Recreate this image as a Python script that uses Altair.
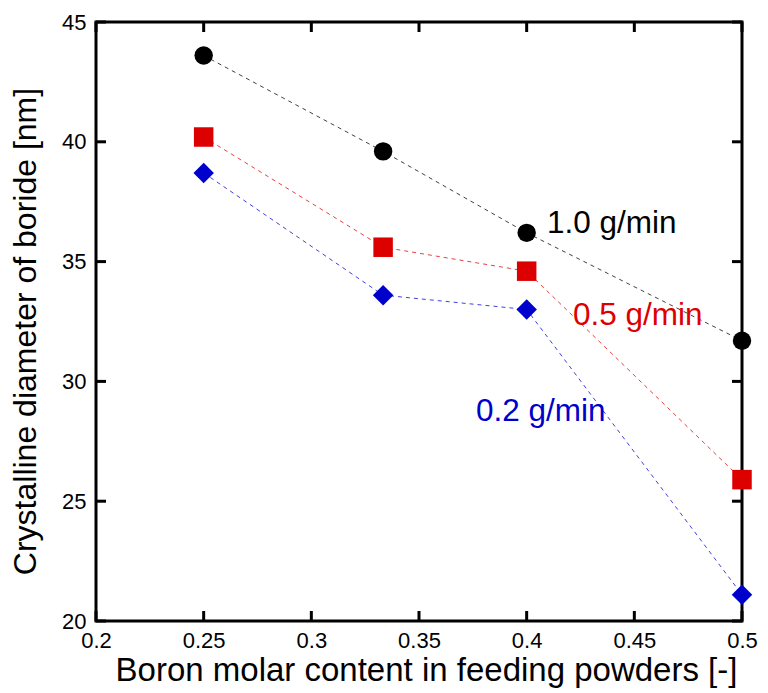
import altair as alt
import pandas as pd

# ---- data ----
boron = [0.25, 1/3, 0.4, 0.5]
series_names = ["1.0 g/min", "0.5 g/min", "0.2 g/min"]
d_10 = [43.6, 39.6, 36.2, 31.7]
d_05 = [40.2, 35.6, 34.6, 25.9]
d_02 = [38.7, 33.6, 33.0, 21.1]

label_text = ["1.0 g/min", "0.5 g/min", "0.2 g/min"]
label_x = [0.4094, 0.4215, 0.3765]
label_y = [36.19, 32.35, 28.35]

x_ticks = [0.2, 0.25, 0.3, 0.35, 0.4, 0.45, 0.5]
y_ticks = [20, 25, 30, 35, 40, 45]

colors = ["#000000", "#DD0000", "#0000CC"]
shapes = ["circle", "square", "diamond"]

rows = []
for name, vals in zip(series_names, [d_10, d_05, d_02]):
    for b, v in zip(boron, vals):
        rows.append({"boron": b, "diam": v, "series": name})
df = pd.DataFrame(rows)
lab = pd.DataFrame({"text": label_text, "x": label_x, "y": label_y, "series": series_names})
xt = pd.DataFrame({"t": x_ticks})
yt = pd.DataFrame({"t": y_ticks})

W, H = 646, 599
FONT = "Liberation Sans"

xscale = alt.Scale(domain=[0.2, 0.5], nice=False, zero=False)
yscale = alt.Scale(domain=[20, 45], nice=False, zero=False)
cscale = alt.Scale(domain=series_names, range=colors)

x_enc = alt.X("boron:Q", scale=xscale,
              axis=alt.Axis(title="Boron molar content in feeding powders [-]",
                            values=x_ticks, format="~g", ticks=False, domain=False,
                            grid=False, labelPadding=9, titlePadding=3,
                            labelFontSize=22, titleFontSize=33,
                            labelFont=FONT, titleFont=FONT, labelColor="black",
                            titleColor="black", titleFontWeight="normal",
                            labelFlush=False, titleX=330))
y_enc = alt.Y("diam:Q", scale=yscale,
              axis=alt.Axis(title="Crystalline diameter of boride [nm]",
                            values=y_ticks, ticks=False, domain=False, grid=False,
                            labelPadding=10, titlePadding=19,
                            labelFontSize=22, titleFontSize=32,
                            labelFont=FONT, titleFont=FONT, labelColor="black",
                            titleColor="black", titleFontWeight="normal",
                            labelFlush=False, titleY=309))

lines = alt.Chart(df).mark_line(strokeDash=[4, 4], strokeWidth=1, opacity=0.75).encode(
    x=x_enc, y=y_enc,
    color=alt.Color("series:N", scale=cscale, legend=None),
    detail="series:N",
)
points = alt.Chart(df).mark_point(filled=True, opacity=1).encode(
    x=alt.X("boron:Q", scale=xscale),
    y=alt.Y("diam:Q", scale=yscale),
    color=alt.Color("series:N", scale=cscale, legend=None),
    shape=alt.Shape("series:N", scale=alt.Scale(domain=series_names, range=shapes), legend=None),
    size=alt.Size("series:N", scale=alt.Scale(domain=series_names, range=[340, 420, 420]), legend=None),
)
labels = alt.Chart(lab).mark_text(align="left", baseline="alphabetic", fontSize=31.5, font=FONT).encode(
    x=alt.X("x:Q", scale=xscale),
    y=alt.Y("y:Q", scale=yscale),
    text="text:N",
    color=alt.Color("series:N", scale=cscale, legend=None),
)

tk = 10
tick_w = 3
yl = alt.Chart(yt).mark_rule(color="black", strokeWidth=tick_w).encode(
    y=alt.Y("t:Q", scale=yscale), x=alt.value(0), x2=alt.value(tk))
yr = alt.Chart(yt).mark_rule(color="black", strokeWidth=tick_w).encode(
    y=alt.Y("t:Q", scale=yscale), x=alt.value(W - tk), x2=alt.value(W))
xb = alt.Chart(xt).mark_rule(color="black", strokeWidth=tick_w).encode(
    x=alt.X("t:Q", scale=xscale), y=alt.value(H - tk), y2=alt.value(H))
xtop = alt.Chart(xt).mark_rule(color="black", strokeWidth=tick_w).encode(
    x=alt.X("t:Q", scale=xscale), y=alt.value(0), y2=alt.value(tk))

chart = alt.layer(lines, yl, yr, xb, xtop, points, labels).properties(
    width=W, height=H,
    autosize=alt.AutoSizeParams(type="none"),
    padding={"left": 96, "top": 22, "right": 26, "bottom": 72},
    background="white",
).configure_view(stroke="black", strokeWidth=3)

chart.save("out.html", embed_options={"renderer": "svg", "actions": False})
